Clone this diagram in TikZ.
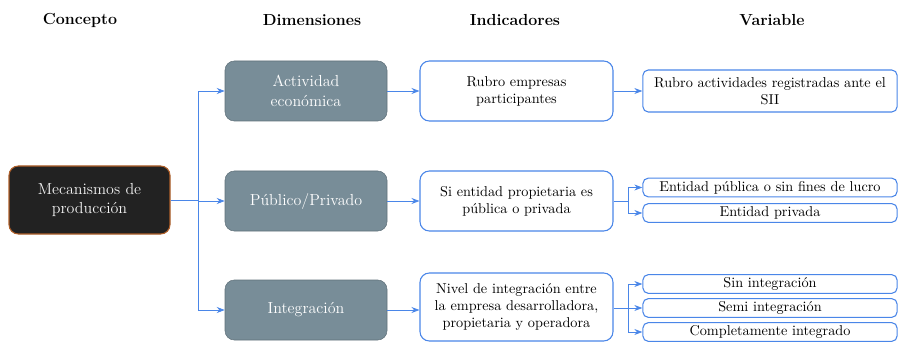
\documentclass[tikz,border=0pt]{standalone}
\usetikzlibrary{arrows.meta}

\definecolor{linkblue}{HTML}{4A86E8}
\definecolor{slate}{HTML}{788D98}
\definecolor{darkbox}{HTML}{222222}
\definecolor{rust}{HTML}{B0602A}

\tikzset{
  concepto/.style={rectangle,rounded corners=7pt,draw=rust,thick,fill=darkbox,text=white!95!black,
    minimum width=120.75pt,minimum height=51pt,align=center,text width=110pt,
    font=\fontsize{12}{14.5}\selectfont},
  dimension/.style={rectangle,rounded corners=7pt,draw=slate!80!black,fill=slate,text=white,
    minimum width=121.5pt,minimum height=45pt,align=center,text width=110pt,
    font=\fontsize{12}{14.5}\selectfont},
  indicador/.style={rectangle,rounded corners=7pt,draw=linkblue,fill=white,thick,
    minimum width=144.75pt,minimum height=45pt,align=center,text width=136pt},
  varbox/.style={rectangle,rounded corners=4pt,draw=linkblue,fill=white,thick,
    minimum width=190.5pt,align=center,text width=184pt,inner ysep=1pt},
  header/.style={font=\fontsize{12}{14}\selectfont\bfseries},
  link/.style={draw=linkblue,semithick},
  arrow/.style={link,-{Stealth[length=6pt,width=4.5pt]}}
}

\begin{document}
\begin{tikzpicture}[x=0.75pt,y=-0.75pt,font=\fontsize{10.7}{12.8}\selectfont]
  \useasboundingbox (0,0) rectangle (899,342);

  % column titles
  \node[header] (h1) at (80,20) {Concepto};
  \node[header] (h2) at (312,20) {Dimensiones};
  \node[header] (h3) at (515,20) {Indicadores};
  \node[header] (h4) at (772,20) {Variable};

  \node[concepto] (mec) at (89.5,200) {Mecanismos de\\producción};

  \node[dimension] (d1) at (306,91) {Actividad\\económica};
  \node[dimension] (d2) at (306,201) {Público/Privado};
  \node[dimension] (d3) at (306,310) {Integración};

  \node[indicador] (i1) at (516.5,91) {Rubro empresas\\participantes};
  \node[indicador] (i2) at (516.5,201) {Si entidad propietaria es\\pública o privada};
  \node[indicador,minimum height=51pt] (i3) at (516.5,307) {Nivel de integración entre\\la empresa desarrolladora,\\propietaria y operadora};

  \node[varbox,minimum height=31.5pt] (v1) at (770,91) {Rubro actividades registradas ante el\\SII};
  \node[varbox,minimum height=14pt] (v2a) at (770,187.5) {Entidad pública o sin fines de lucro};
  \node[varbox,minimum height=14pt] (v2b) at (770,213) {Entidad privada};
  \node[varbox,minimum height=14pt] (v3a) at (770,284) {Sin integración};
  \node[varbox,minimum height=14pt] (v3b) at (770,308) {Semi integración};
  \node[varbox,minimum height=14pt] (v3c) at (770,332) {Completamente integrado};

  \coordinate (trunk) at (198,200);
  \coordinate (j2) at (628,201);
  \coordinate (j3) at (628,308);

\draw[link] (mec.east) -- (trunk);
\draw[arrow] (trunk) |- (d1.west);
\draw[arrow] (trunk) |- (d2.west);
\draw[arrow] (trunk) |- (d3.west);
\draw[arrow] (d1) -- (i1);
\draw[arrow] (d2) -- (i2);
\draw[arrow] (d3.east) -- (d3.east -| i3.west);
\draw[arrow] (i1) -- (v1);
\draw[link] (i2.east) -- (j2);
\draw[arrow] (j2) |- (v2a.west);
\draw[arrow] (j2) |- (v2b.west);
\draw[link] (i3.east |- j3) -- (j3);
\draw[arrow] (j3) |- (v3a.west);
\draw[arrow] (j3) -- (v3b.west);
\draw[arrow] (j3) |- (v3c.west);
\end{tikzpicture}
\end{document}
